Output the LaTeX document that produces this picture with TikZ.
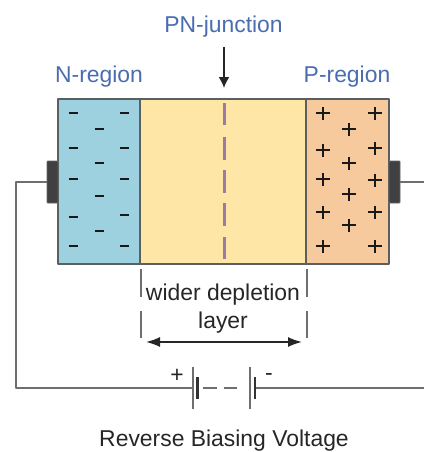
\documentclass[tikz,border=0pt]{standalone}
\usepackage{fontspec}
\setmainfont{Liberation Sans}
\usetikzlibrary{arrows.meta}
\definecolor{nfill}{HTML}{9DD1DF}
\definecolor{dfill}{HTML}{FEE6A6}
\definecolor{pfill}{HTML}{F7CA9D}
\definecolor{edge}{HTML}{5A5F5F}
\definecolor{wire}{HTML}{6E6E6E}
\definecolor{blab}{HTML}{4A6DB0}
\definecolor{junc}{HTML}{9A7BA6}
\tikzset{
  x=1pt,y=-1pt,
  region/.style={draw=edge,line width=2pt,line join=round},
  wireline/.style={draw=wire,line width=2pt},
  contact/.style={draw=black!60,fill=black!75,line width=0.8pt,rounded corners=0.8pt},
  sign/.style={black!90,line width=1.4pt},
  blabel/.style={text=blab,font=\fontsize{22.9}{27}\selectfont,inner sep=0pt},
  klabel/.style={text=black!85,font=\fontsize{22.9}{28}\selectfont,inner sep=0pt,align=center},
  dim/.style={draw=wire,line width=2pt},
  arrowline/.style={draw=black!85,line width=1.7pt,-{Latex[length=11pt,width=11pt]}},
  junction/.style={draw=junc,line width=3pt},
  plate/.style={draw=wire,line width=2pt},
  thickplate/.style={draw=black!80,line width=2.6pt},
}
\begin{document}
\begin{tikzpicture}
\useasboundingbox (0,0) rectangle (424,452);
% regions
\path[region,fill=nfill] (58,99) rectangle (140,264);
\path[region,fill=dfill] (140,99) rectangle (306,264);
\path[region,fill=pfill] (306,99) rectangle (389,264);
% contacts
\node[contact,minimum width=11pt,minimum height=42pt,inner sep=0pt] (cl) at (52.5,182) {};
\node[contact,minimum width=11pt,minimum height=42pt,inner sep=0pt] (cr) at (394.5,182) {};
% signs
\foreach \x/\y in {73/113,73/148,73/179,73/217,73/246,124/113,124/148,124/179,124/215,124/246,99/129,99/163,99/196,99/231}
  \draw[sign] (\x-4.5,\y) -- (\x+4.5,\y);
\foreach \x/\y in {323/113,323/150,323/179,323/212,323/246,375/113,375/148,375/180,375/212,375/246,349/129,349/163,349/194,349/225}{
  \draw[sign] (\x-7,\y) -- (\x+7,\y);
  \draw[sign] (\x,\y-6.5) -- (\x,\y+6.5);
}
% junction dashes
\foreach \a/\b in {103/125,137/160,170/193,203/226,237/259}
  \draw[junction] (224,\a) -- (224,\b);
% labels
\node[blabel] (pn) at (223.5,26.5) {PN-junction};
\node[blabel] (nr) at (99,77) {N-region};
\node[blabel] (pr) at (347,77) {P-region};
\coordinate (pntop) at (224,47);
\coordinate (pnend) at (224,88);
\draw[arrowline] (pntop) -- (pnend);
\node[klabel] (wd) at (223,309) {wider depletion\\layer};
\node[klabel] (rb) at (224,441) {Reverse Biasing Voltage};
% depletion dimension
\foreach \x in {141,307}{
  \draw[dim] (\x,269) -- (\x,297);
  \draw[dim] (\x,311) -- (\x,338);
}
\coordinate (dl) at (146,342);
\coordinate (dr) at (302,342);
\draw[draw=black!85,line width=1.7pt,{Latex[length=14pt,width=10pt]}-{Latex[length=14pt,width=10pt]}] (dl) -- (dr);
% battery
\coordinate (bl) at (193,388);
\coordinate (br) at (255,388);
\coordinate (wl) at (16,388);
\coordinate (wr) at (424,388);
\coordinate (wrt) at (424,182);
\draw[wireline,line join=round] (cl.west) -| (wl) -- (bl);
\draw[wireline] (cr.east) -- (wrt);
\draw[wireline] (br) -- (wr);
\draw[plate] (193,367) -- (193,409);
\draw[thickplate] (197.5,377) -- (197.5,399);
\draw[wireline] (203,388) -- (217,388);
\draw[wireline] (224,388) -- (237,388);
\draw[plate] (249.5,367) -- (249.5,409);
\draw[thickplate] (255,377) -- (255,399);
\node[klabel] (bp) at (177,376) {+};
\node[klabel] (bm) at (269,377) {-};
\end{tikzpicture}
\end{document}
